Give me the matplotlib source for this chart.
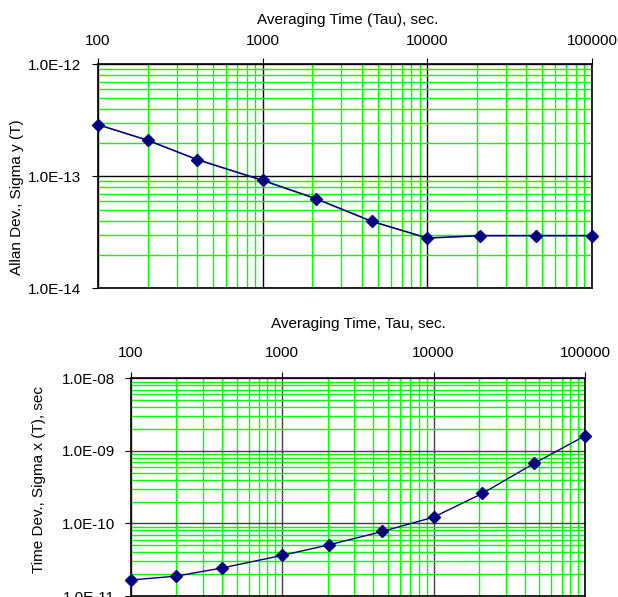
import numpy as np
import matplotlib
matplotlib.use("Agg")
import matplotlib.pyplot as plt
from matplotlib.ticker import LogLocator, FuncFormatter, NullFormatter

plt.rcParams['font.family'] = ['Liberation Sans', 'DejaVu Sans']

# data
tau_top = [100, 200, 400, 1000, 2100, 4600, 10000, 21000, 46000, 100000]
allan_dev = [2.89e-13, 2.10e-13, 1.41e-13, 9.2e-14, 6.32e-14, 3.96e-14,
             2.81e-14, 2.95e-14, 2.95e-14, 2.95e-14]

tau_bot = [100, 200, 400, 1000, 2050, 4600, 10000, 21000, 46000, 100000]
time_dev = [1.66e-11, 1.88e-11, 2.43e-11, 3.63e-11, 5.08e-11, 7.76e-11,
            1.22e-10, 2.59e-10, 6.7e-10, 1.61e-9]

xticks = [100, 1000, 10000, 100000]
xticklabels = ['100', '1000', '10000', '100000']

W, H = 618, 597
fig = plt.figure(figsize=(W / 100, H / 100), dpi=100)


def setup(ax, ylim, major_col, xpad, ypad):
    ax.set_xscale('log')
    ax.set_yscale('log')
    ax.set_xlim(100, 100000)
    ax.set_ylim(*ylim)
    ax.xaxis.tick_top()
    ax.set_xticks(xticks)
    ax.set_xticklabels(xticklabels)
    ax.xaxis.set_minor_locator(LogLocator(base=10, subs=np.arange(2, 10)))
    ax.xaxis.set_minor_formatter(NullFormatter())
    ax.yaxis.set_major_locator(LogLocator(base=10))
    ax.yaxis.set_minor_locator(LogLocator(base=10, subs=np.arange(2, 10)))
    ax.yaxis.set_major_formatter(FuncFormatter(lambda v, p: f"{v:.1E}"))
    ax.yaxis.set_minor_formatter(NullFormatter())
    ax.grid(True, which='minor', color='#00ff00', lw=1.0, zorder=0)
    ax.grid(True, which='major', color=major_col, lw=1.0, zorder=1)
    ax.tick_params(axis='x', which='major', length=4, pad=xpad, labelsize=11)
    ax.tick_params(axis='y', which='major', length=4, pad=ypad, labelsize=11)
    ax.tick_params(which='minor', length=0)
    for s in ax.spines.values():
        s.set_color('black')
        s.set_linewidth(1.2)
    ax.set_axisbelow(True)


ax1 = fig.add_axes([98 / W, 1 - 288.3 / H, (592 - 98) / W, (288.3 - 64.3) / H])
setup(ax1, (1e-14, 1e-12), 'black', 8, 8)
ax1.plot(tau_top, allan_dev, color='#000080', lw=1.2, marker='D', ms=6,
         clip_on=False, zorder=5)

ax2 = fig.add_axes([130.7 / W, 1 - 596 / H, (585 - 130.7) / W, (596 - 378.3) / H])
setup(ax2, (1e-11, 1e-8), '#404040', 9, 7)
ax2.plot(tau_bot, time_dev, color='#000080', lw=1.0, marker='D', ms=6,
         clip_on=False, zorder=5)

fig.text(348 / W, 1 - 20 / H, 'Averaging Time (Tau), sec.', ha='center', va='center', fontsize=11)
fig.text(17 / W, 1 - 197 / H, 'Allan Dev., Sigma y (T)', ha='center', va='center',
         rotation=90, fontsize=11)
fig.text(358 / W, 1 - 324 / H, 'Averaging Time, Tau, sec.', ha='center', va='center', fontsize=11)
fig.text(39 / W, 1 - 479.5 / H, 'Time Dev., Sigma x (T), sec', ha='center', va='center',
         rotation=90, fontsize=11)

fig.savefig('out.png', dpi=100)
